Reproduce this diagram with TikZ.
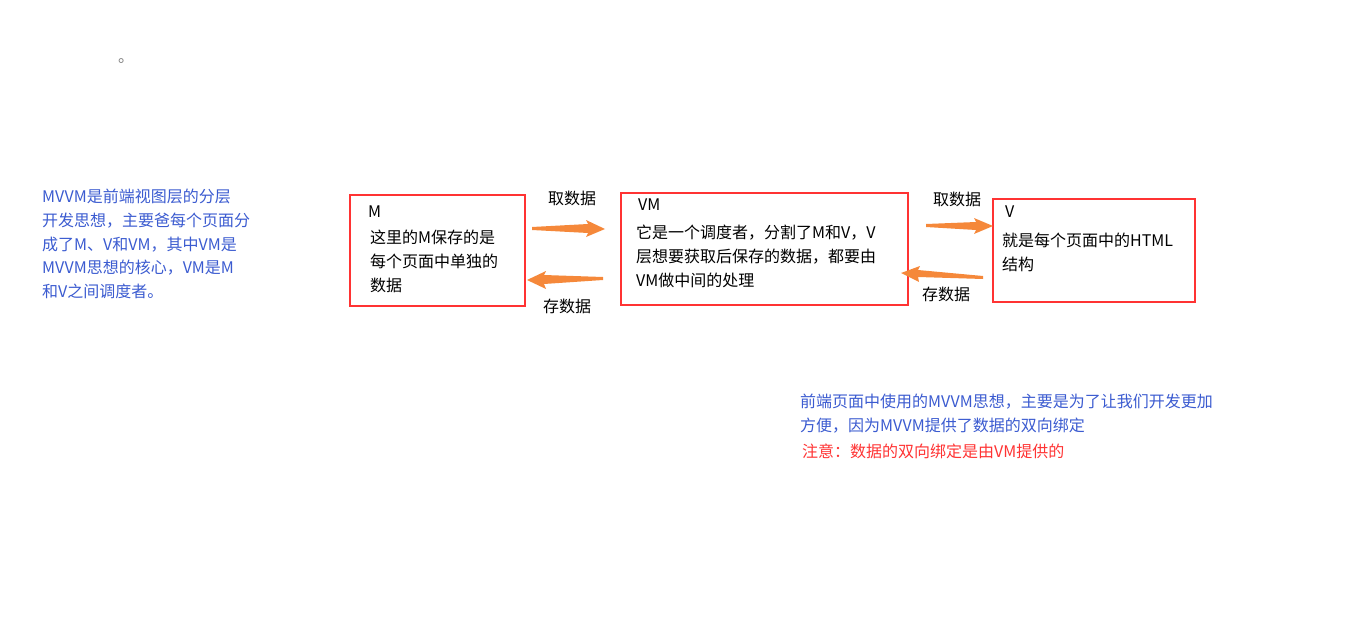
\documentclass[tikz,border=0pt]{standalone}
\usepackage{fontspec}
\setmainfont{Noto Sans CJK SC}
\begin{document}
\begin{tikzpicture}[x=1pt,y=-1pt,
  txt/.style={inner sep=0pt,anchor=north west,align=left,font=\fontsize{16}{23.7}\selectfont},
  box/.style={draw=red!80!white,line width=2.6pt},
  arr/.style={fill=orange!85!red!90!white}]
\definecolor{blu}{HTML}{3B5BD0}
\definecolor{rd}{HTML}{FF3333}
\definecolor{org}{HTML}{F5883A}
\useasboundingbox (0,0) rectangle (1349,623);
\node[txt,text=gray] (dot) at (118,58) {。};
\node[txt,text=blu] (left) at (42,189) {MVVM是前端视图层的分层\\开发思想，主要爸每个页面分\\成了M、V和VM，其中VM是\\MVVM思想的核心，VM是M\\和V之间调度者。};
\draw[draw=rd,line width=2.6pt] (350,195) rectangle (525,306);
\draw[draw=rd,line width=2.6pt] (621,193) rectangle (908,305);
\draw[draw=rd,line width=2.6pt] (993,199) rectangle (1195,302);
\node[txt] (mt) at (368,206) {M};
\node[txt] (mb) at (370,230) {这里的M保存的是\\每个页面中单独的\\数据};
\node[txt] (vmt) at (638,199) {VM};
\node[txt] (vmb) at (636,225) {它是一个调度者，分割了M和V，V\\层想要获取后保存的数据，都要由\\VM做中间的处理};
\node[txt] (vt) at (1005,206) {V};
\node[txt] (vb) at (1002,233) {就是每个页面中的HTML\\结构};
\node[txt,anchor=center] (l1) at (572,198) {取数据};
\node[txt,anchor=center] (l2) at (567,306) {存数据};
\node[txt,anchor=center] (l3) at (957,199) {取数据};
\node[txt,anchor=center] (l4) at (946,294) {存数据};
\fill[org] (532,227) -- (588,224) -- (586,220) -- (605,229) -- (586,237) -- (588,233) -- (532,230) -- cycle;
\fill[org] (603,277) -- (544,275) -- (546,271) -- (527,280) -- (546,289) -- (544,284) -- (603,280) -- cycle;
\fill[org] (926,224) -- (976,222) -- (974,218) -- (993,226) -- (974,234) -- (976,230) -- (926,227) -- cycle;
\fill[org] (983,276) -- (918,270) -- (920,266) -- (901,273) -- (919,282) -- (918,277) -- (983,279) -- cycle;
\node[txt,text=blu] (br) at (800,394) {前端页面中使用的MVVM思想，主要是为了让我们开发更加\\方便，因为MVVM提供了数据的双向绑定};
\node[txt,text=rd] (note) at (802,444) {注意：数据的双向绑定是由VM提供的};
\end{tikzpicture}
\end{document}
